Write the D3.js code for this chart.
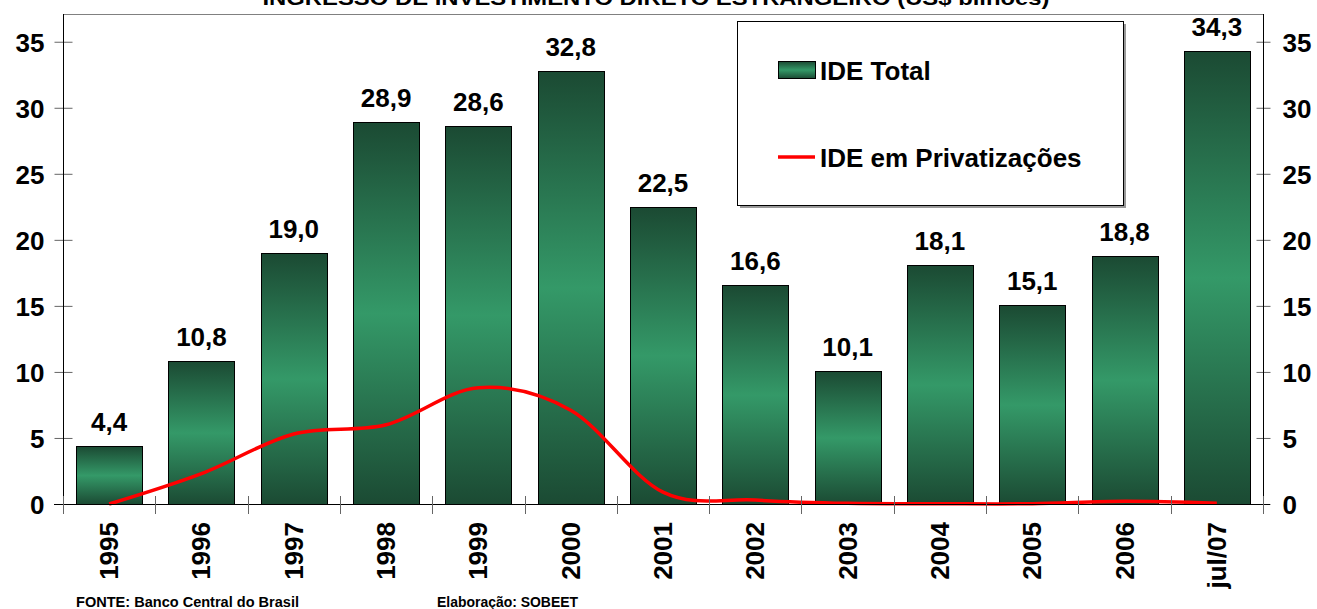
<!DOCTYPE html>
<html>
<head>
<meta charset="utf-8">
<script src="https://cdn.jsdelivr.net/npm/d3@7"></script>
<style>
  html, body { margin: 0; padding: 0; background: #fff; }
  svg { display: block; font-family: "Liberation Sans", Arial, sans-serif; font-weight: bold; }
</style>
</head>
<body>
<svg id="chart" width="1317" height="609"></svg>
<script>
const categories = ["1995","1996","1997","1998","1999","2000","2001","2002","2003","2004","2005","2006","jul/07"];
const ideTotal = [4.4, 10.8, 19.0, 28.9, 28.6, 32.8, 22.5, 16.6, 10.1, 18.1, 15.1, 18.8, 34.3];
const idePrivatizacoes = [0.0, 2.3, 5.3, 6.0, 8.8, 7.1, 0.9, 0.3, 0.05, 0.02, 0.02, 0.2, 0.05];
const yTicks = [0, 5, 10, 15, 20, 25, 30, 35];
const titleText = "INGRESSO DE INVESTIMENTO DIRETO ESTRANGEIRO (US$ bilhões)";
const legendLabels = ["IDE Total", "IDE em Privatizações"];
const sourceText = "FONTE: Banco Central do Brasil";
const creditText = "Elaboração: SOBEET";

(function () {
const svg = d3.select("#chart");
const pL = 63, pR = 1263, pT = 14, pB = 504;

const x = d3.scaleBand().domain(categories).range([pL, pR]).paddingInner(0.285).paddingOuter(0.1425);
const xb = d3.scaleBand().domain(categories).range([pL, pR]);
const y = d3.scaleLinear().domain([0, 37.1]).range([pB, pT]);

const defs = svg.append("defs");
const grad = defs.append("linearGradient").attr("id", "barGrad").attr("x1", 0).attr("y1", 0).attr("x2", 0).attr("y2", 1);
grad.append("stop").attr("offset", "0%").attr("stop-color", "#1b4a33");
grad.append("stop").attr("offset", "50%").attr("stop-color", "#349968");
grad.append("stop").attr("offset", "100%").attr("stop-color", "#1b4a33");

svg.append("text").attr("x", 656).attr("y", 5).attr("text-anchor", "middle")
  .attr("font-size", 20).attr("textLength", 787).attr("lengthAdjust", "spacingAndGlyphs")
  .attr("fill", "#000").text(titleText);

svg.append("line").attr("x1", pL).attr("x2", pR).attr("y1", pT + 0.5).attr("y2", pT + 0.5)
  .attr("stroke", "#808080").attr("stroke-width", 1);

svg.append("g").selectAll("rect").data(ideTotal).join("rect")
  .attr("x", (d, i) => Math.round(x(categories[i])) + 0.5)
  .attr("y", d => Math.round(y(d)) + 0.5)
  .attr("width", Math.round(x.bandwidth()))
  .attr("height", d => pB - Math.round(y(d)))
  .attr("fill", "url(#barGrad)")
  .attr("stroke", "#000").attr("stroke-width", 1);

svg.append("g").selectAll("text").data(ideTotal).join("text")
  .attr("x", (d, i) => x(categories[i]) + x.bandwidth() / 2)
  .attr("y", d => y(d) - 15)
  .attr("text-anchor", "middle").attr("font-size", 26).attr("fill", "#000")
  .text(d => d3.format(".1f")(d).replace(".", ","));

const line = d3.line()
  .x((d, i) => xb(categories[i]) + xb.bandwidth() / 2)
  .y(d => y(d))
  .curve(d3.curveCatmullRom.alpha(0));
svg.append("path").datum(idePrivatizacoes).attr("d", line)
  .attr("fill", "none").attr("stroke", "#ff0000").attr("stroke-width", 3.5)
  .attr("stroke-linejoin", "round");

const yAxisL = d3.axisLeft(y).tickValues(yTicks).tickSize(0).tickPadding(0);
const gl = svg.append("g").attr("transform", `translate(${pL + 0.5},0)`).call(yAxisL);
gl.select(".domain").remove();
gl.selectAll(".tick text").remove();
gl.selectAll(".tick").append("line").attr("x1", -9).attr("x2", 9).attr("stroke", "#666");
gl.selectAll(".tick").append("text").attr("x", -19).attr("dy", "0.36em")
  .attr("text-anchor", "end").attr("font-size", 26).attr("fill", "#000")
  .attr("font-family", "Liberation Sans, Arial, sans-serif").attr("font-weight", "bold")
  .text(d => d);
svg.append("line").attr("x1", pL + 0.5).attr("x2", pL + 0.5).attr("y1", pT).attr("y2", pB)
  .attr("stroke", "#000");

const yAxisR = d3.axisRight(y).tickValues(yTicks).tickSize(0).tickPadding(0);
const gr = svg.append("g").attr("transform", `translate(${pR + 0.5},0)`).call(yAxisR);
gr.select(".domain").remove();
gr.selectAll(".tick text").remove();
gr.selectAll(".tick").append("line").attr("x1", -7).attr("x2", 7).attr("stroke", "#666");
gr.selectAll(".tick").append("text").attr("x", 19).attr("dy", "0.36em")
  .attr("text-anchor", "start").attr("font-size", 26).attr("fill", "#000")
  .attr("font-family", "Liberation Sans, Arial, sans-serif").attr("font-weight", "bold")
  .text(d => d);
svg.append("line").attr("x1", pR + 0.5).attr("x2", pR + 0.5).attr("y1", pT).attr("y2", pB)
  .attr("stroke", "#000");

svg.append("line").attr("x1", pL - 9).attr("x2", pR + 7).attr("y1", pB + 0.5).attr("y2", pB + 0.5)
  .attr("stroke", "#000");
const boundaries = categories.map(c => xb(c)).concat([pR]);
svg.append("g").selectAll("line").data(boundaries).join("line")
  .attr("x1", d => Math.round(d) + 0.5).attr("x2", d => Math.round(d) + 0.5)
  .attr("y1", pB - 8).attr("y2", pB + 10)
  .attr("stroke", "#666");
const xAxis = d3.axisBottom(xb).tickSize(0);
const gx = svg.append("g").attr("transform", `translate(0,${pB})`).call(xAxis);
gx.select(".domain").remove();
gx.selectAll(".tick text")
  .attr("transform", "translate(9,18) rotate(-90)")
  .attr("x", 0).attr("y", 0).attr("dy", 0)
  .attr("text-anchor", "end").attr("font-size", 26).attr("fill", "#000")
  .attr("font-family", "Liberation Sans, Arial, sans-serif").attr("font-weight", "bold");

const lg = svg.append("g");
lg.append("rect").attr("x", 740).attr("y", 24).attr("width", 386).attr("height", 184).attr("fill", "#999");
lg.append("rect").attr("x", 737.5).attr("y", 21.5).attr("width", 386).attr("height", 184)
  .attr("fill", "#fff").attr("stroke", "#000").attr("stroke-width", 1);
lg.append("rect").attr("x", 778.5).attr("y", 61.5).attr("width", 37).attr("height", 17)
  .attr("fill", "url(#barGrad)").attr("stroke", "#000").attr("stroke-width", 1);
lg.append("text").attr("x", 820).attr("y", 80).attr("font-size", 26).attr("fill", "#000").text(legendLabels[0]);
lg.append("line").attr("x1", 778).attr("x2", 815).attr("y1", 157).attr("y2", 157)
  .attr("stroke", "#ff0000").attr("stroke-width", 3.5);
lg.append("text").attr("x", 820).attr("y", 167).attr("font-size", 26).attr("fill", "#000").text(legendLabels[1]);

svg.append("text").attr("x", 76).attr("y", 607).attr("font-size", 14.5).attr("fill", "#000")
  .attr("textLength", 223).attr("lengthAdjust", "spacingAndGlyphs").text(sourceText);
svg.append("text").attr("x", 437).attr("y", 607).attr("font-size", 14.5).attr("fill", "#000")
  .attr("textLength", 141).attr("lengthAdjust", "spacingAndGlyphs").text(creditText);
})();
</script>
</body>
</html>
